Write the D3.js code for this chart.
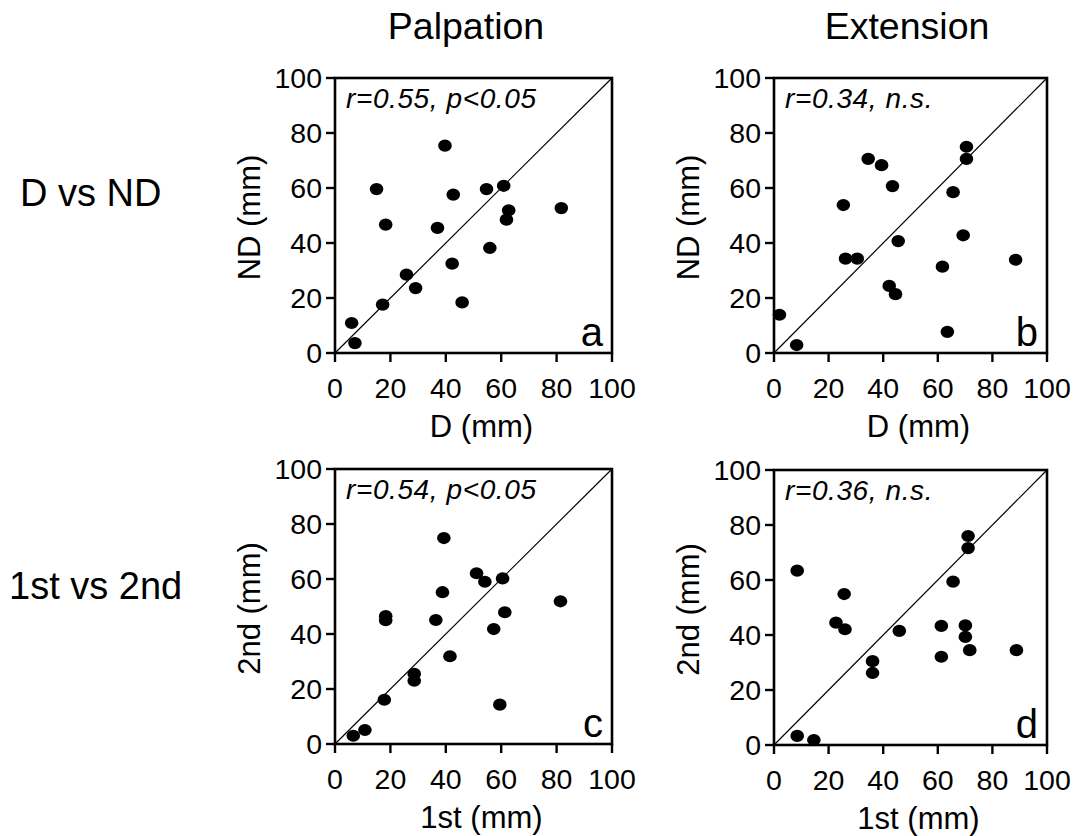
<!DOCTYPE html>
<html lang="en">
<head>
  <meta charset="UTF-8" />
  <title>Palpation / Extension</title>
  <script src="https://d3js.org/d3.v7.min.js"></script>
  <style>
    body { margin: 0; background: #fff; }
    svg { display: block; }
    text { font-family: "Liberation Sans", Arial, sans-serif; fill: #000; }
  </style>
</head>
<body>
  <svg width="1083" height="836"></svg>
  <script>
    // values (mm)
    const aX = [6.0, 7.2, 17.2, 15.0, 18.3, 25.8, 29.1, 37.0, 39.7, 42.7, 42.3, 45.9, 54.7, 55.9, 60.9, 62.7, 61.9, 81.7];
    const aY = [10.9, 3.6, 17.6, 59.6, 46.7, 28.5, 23.6, 45.5, 75.4, 57.6, 32.5, 18.4, 59.6, 38.2, 60.8, 51.9, 48.5, 52.7];

    const bX = [2.0, 8.3, 25.4, 26.2, 30.5, 34.5, 39.4, 43.4, 42.2, 44.5, 45.5, 61.7, 63.5, 65.6, 69.3, 70.5, 70.5, 88.5];
    const bY = [13.9, 2.9, 53.8, 34.3, 34.3, 70.6, 68.3, 60.7, 24.4, 21.4, 40.7, 31.4, 7.7, 58.5, 42.8, 75.0, 70.6, 33.9];

    const cX = [6.6, 10.8, 17.8, 18.3, 18.3, 28.6, 28.6, 36.4, 39.3, 38.8, 41.5, 51.1, 54.1, 57.3, 59.5, 60.5, 61.3, 81.4];
    const cY = [3.0, 5.1, 16.1, 46.5, 45.0, 25.5, 23.0, 45.1, 74.9, 55.2, 31.9, 62.1, 59.0, 41.8, 14.3, 60.2, 47.9, 51.9];

    const dX = [8.5, 14.6, 8.5, 25.7, 22.7, 26.0, 36.1, 36.1, 45.9, 61.3, 61.3, 65.6, 70.1, 70.1, 71.7, 71.1, 71.1, 88.8];
    const dY = [3.3, 1.8, 63.4, 54.9, 44.5, 42.1, 30.5, 26.2, 41.5, 43.3, 32.1, 59.4, 43.5, 39.3, 34.5, 76.0, 71.6, 34.5];

    const ticks = [0, 20, 40, 60, 80, 100];
    const columnTitles = ["Palpation", "Extension"];
    const rowTitles = ["D vs ND", "1st vs 2nd"];
    const stats = ["r=0.55, p<0.05", "r=0.34, n.s.", "r=0.54, p<0.05", "r=0.36, n.s."];
    const letters = ["a", "b", "c", "d"];
    const xLabels = ["D (mm)", "D (mm)", "1st (mm)", "1st (mm)"];
    const yLabels = ["ND (mm)", "ND (mm)", "2nd (mm)", "2nd (mm)"];

    const svg = d3.select("svg");

    // panel boxes
    const boxes = [
      { left: 335, top: 78, w: 277, h: 275 },
      { left: 774, top: 78, w: 273, h: 275 },
      { left: 335, top: 469, w: 277, h: 275 },
      { left: 774, top: 470, w: 273, h: 275 }
    ];
    const xs = [aX, bX, cX, dX];
    const ys = [aY, bY, cY, dY];

    boxes.forEach((b, i) => {
      const x = d3.scaleLinear().domain([0, 100]).range([0, b.w]);
      const y = d3.scaleLinear().domain([0, 100]).range([b.h, 0]);
      const g = svg.append("g").attr("transform", `translate(${b.left},${b.top})`);

      // identity line
      g.append("line")
        .attr("x1", x(0)).attr("y1", y(0))
        .attr("x2", x(100)).attr("y2", y(100))
        .attr("stroke", "#000").attr("stroke-width", 1.2);

      // points
      const pts = xs[i].map((v, k) => ({ x: v, y: ys[i][k] }));
      g.selectAll("ellipse")
        .data(pts)
        .join("ellipse")
        .attr("cx", d => x(d.x))
        .attr("cy", d => y(d.y))
        .attr("rx", 6.8)
        .attr("ry", 6.1)
        .attr("fill", "#000");

      // frame
      g.append("rect")
        .attr("width", b.w).attr("height", b.h)
        .attr("fill", "none").attr("stroke", "#000").attr("stroke-width", 2.6);

      // ticks
      g.selectAll(".xt").data(ticks).join("line")
        .attr("class", "xt")
        .attr("x1", d => x(d)).attr("x2", d => x(d))
        .attr("y1", b.h).attr("y2", b.h + 9)
        .attr("stroke", "#000").attr("stroke-width", 2.4);
      g.selectAll(".yt").data(ticks).join("line")
        .attr("class", "yt")
        .attr("y1", d => y(d)).attr("y2", d => y(d))
        .attr("x1", -9).attr("x2", 0)
        .attr("stroke", "#000").attr("stroke-width", 2.4);

      g.selectAll(".xl").data(ticks).join("text")
        .attr("class", "xl")
        .attr("x", d => x(d))
        .attr("y", b.h + 45)
        .attr("text-anchor", "middle")
        .attr("font-size", 28.5)
        .text(d => d);
      g.selectAll(".yl").data(ticks).join("text")
        .attr("class", "yl")
        .attr("x", -13)
        .attr("y", d => y(d) + 10)
        .attr("text-anchor", "end")
        .attr("font-size", 28.5)
        .text(d => d);

      // axis titles
      g.append("text")
        .attr("x", b.w / 2 + 8)
        .attr("y", b.h + 84)
        .attr("text-anchor", "middle")
        .attr("font-size", 31)
        .text(xLabels[i]);
      g.append("text")
        .attr("transform", `translate(-75,${b.h / 2 + 2}) rotate(-90)`)
        .attr("text-anchor", "middle")
        .attr("font-size", 31)
        .text(yLabels[i]);

      // stat text
      g.append("text")
        .attr("x", 11)
        .attr("y", 30)
        .attr("font-size", 28)
        .attr("letter-spacing", 0.6)
        .attr("font-style", "italic")
        .text(stats[i]);

      // panel letter
      g.append("text")
        .attr("x", b.w - 9)
        .attr("y", b.h - 7)
        .attr("text-anchor", "end")
        .attr("font-size", 40)
        .text(letters[i]);
    });

    // column titles
    svg.selectAll(".ct").data(columnTitles).join("text")
      .attr("class", "ct")
      .attr("x", (d, i) => [466, 907][i])
      .attr("y", 39)
      .attr("text-anchor", "middle")
      .attr("font-size", 37.5)
      .text(d => d);

    // row titles
    svg.selectAll(".rt").data(rowTitles).join("text")
      .attr("class", "rt")
      .attr("x", (d, i) => [20, 9][i])
      .attr("y", (d, i) => [206, 599][i])
      .attr("font-size", 38)
      .text(d => d);
  </script>
</body>
</html>
